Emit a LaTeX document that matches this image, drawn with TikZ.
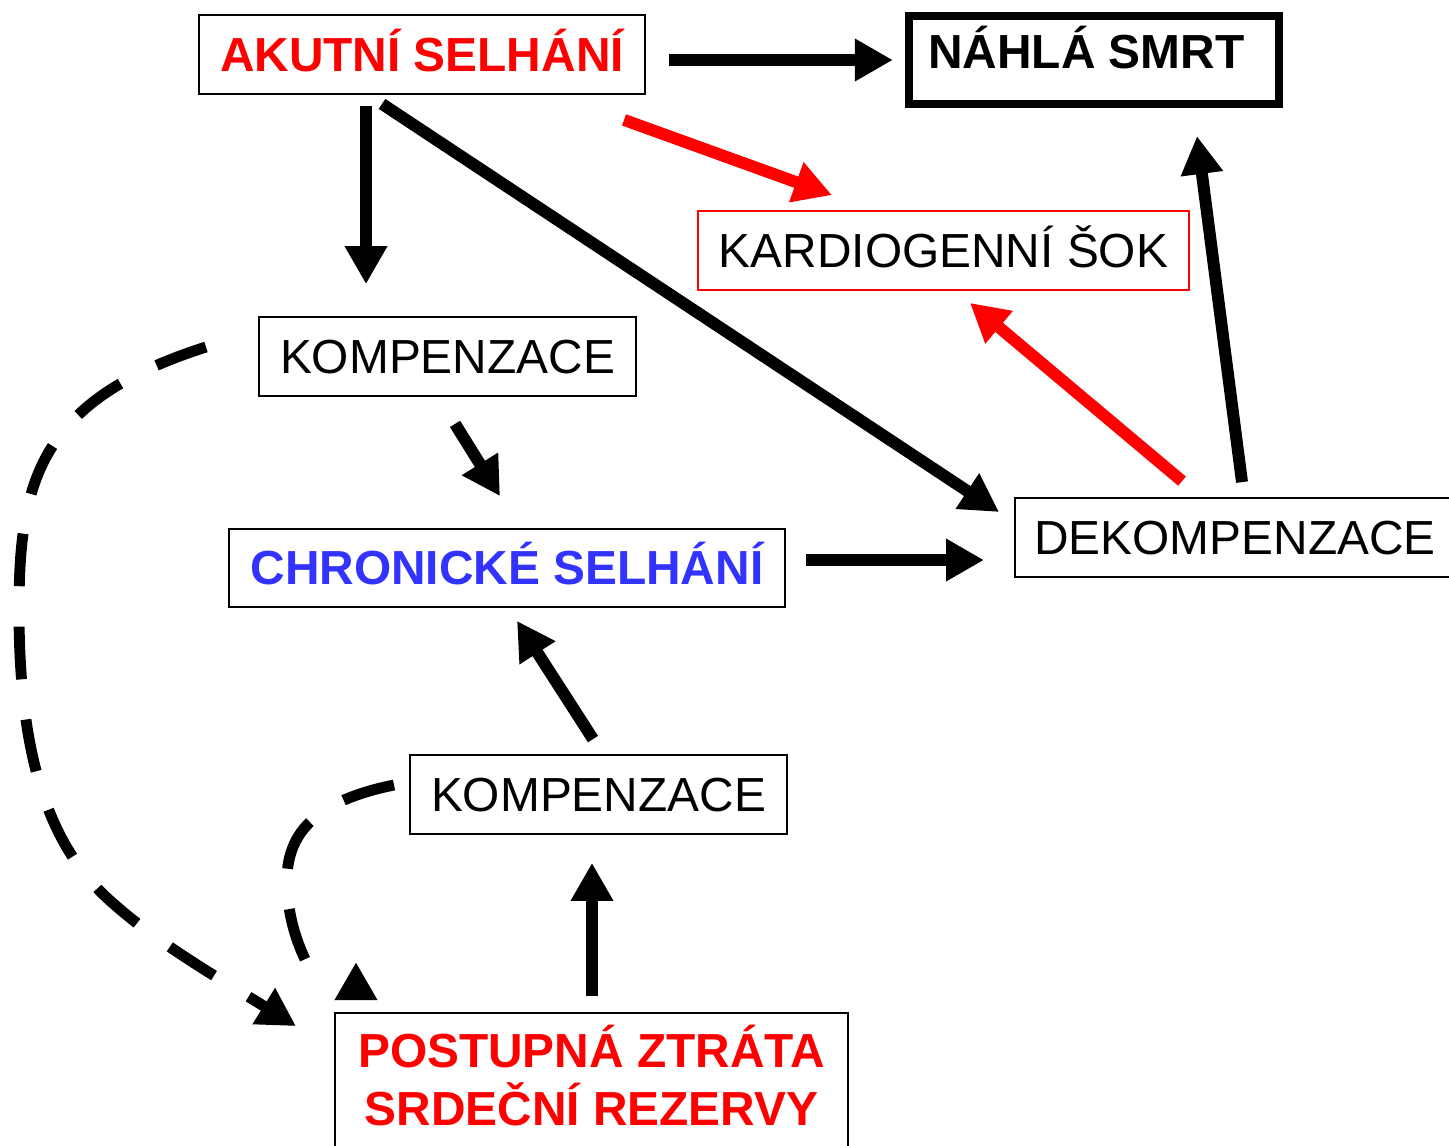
\documentclass[tikz,border=0pt]{standalone}
\usepackage{fontspec}
\setmainfont{Liberation Sans}
\usetikzlibrary{arrows.meta,calc}
\definecolor{chblue}{RGB}{51,51,255}
\newcommand{\boxfont}{\fontsize{13.6}{16.5}\selectfont}
\begin{document}
\begin{tikzpicture}[x=0.01cm,y=-0.01cm,
		box/.style={draw,line width=0.5pt,inner sep=0pt,text height=9.6pt,text depth=0pt,font=\boxfont},
		arr/.style={line width=3.4pt,-{Triangle[length=10.8pt,width=11.4pt]}},
		dasharr/.style={arr,line width=3.1pt,dash pattern=on 15pt off 11.5pt}]
		\useasboundingbox (0,0) rectangle (1449,1145);
		\clip (0,0) rectangle (1449,1145);
		\node[box,minimum width=4.46cm,minimum height=0.79cm,text=red,font=\boxfont\bfseries] (akut) at (422,54.5) {AKUTNÍ SELHÁNÍ};
		\node[box,line width=2.3pt,minimum width=3.7cm,minimum height=0.88cm,text depth=4.6pt,font=\boxfont\bfseries] (nahla) at (1094,60) {NÁHLÁ SMRT\kern4.4pt};
		\node[box,draw=red,minimum width=4.91cm,minimum height=0.79cm] (kard) at (943.5,250.5) {KARDIOGENNÍ ŠOK};
		\node[box,minimum width=3.77cm,minimum height=0.79cm] (komp1) at (447.5,356.5) {KOMPENZACE};
		\node[box,minimum width=5.56cm,minimum height=0.78cm,text=chblue,font=\boxfont\bfseries] (chron) at (507,568) {CHRONICKÉ SELHÁNÍ};
		\node[box,minimum width=4.4cm,minimum height=0.79cm] (dekomp) at (1235,537.5) {DEKOMPENZACE};
		\node[box,minimum width=3.77cm,minimum height=0.79cm] (komp2) at (598.5,794.5) {KOMPENZACE};
		\node[box,minimum width=5.13cm,minimum height=1.34cm,text=red,font=\boxfont\bfseries,align=center,text height=26.1pt] (ztrata) at (591.5,1080) {POSTUPNÁ ZTRÁTA\\SRDEČNÍ REZERVY};
		\draw[arr] ($(akut.east)+(23,5.5)$) -- ($(nahla.west)+(-12,0)$);
		\draw[arr] ($(akut.south)+(-56,11)$) -- ($(komp1.north)+(-81.5,-32)$);
		\draw[arr] ($(akut.south)+(-40,9)$) -- ($(dekomp.west)+(-15,-25.5)$);
		\draw[arr,red] ($(akut.south east)+(-22,25)$) -- ($(kard.north west)+(135,-15)$);
		\draw[arr] ($(komp1.south)+(7.5,27)$) -- ($(chron.north)+(-7,-32)$);
		\draw[arr] ($(chron.east)+(20,-8)$) -- ($(dekomp.west)+(-30,22.5)$);
		\draw[arr,red] ($(dekomp.north)+(-53,-16)$) -- ($(kard.south)+(26.5,12)$);
		\draw[arr] ($(dekomp.north)+(7,-15)$) -- ($(nahla.south)+(103,28)$);
		\draw[arr] ($(komp2.north)+(-5.5,-15)$) -- ($(chron.south)+(10,13)$);
		\draw[arr] ($(ztrata.north)+(0.5,-16)$) -- ($(komp2.south)+(-6.5,28)$);
		\draw[dasharr] ($(komp1.west)+(-52,-9.5)$) .. controls (40,400) and (19,480) .. (19,610)
			.. controls (19,760) and (50,850) .. (115,905)
			.. controls (160,945) and (230,985) .. ($(ztrata.north west)+(-38,14)$);
		\draw[dasharr,-] ($(komp2.west)+(-15,-9.5)$) .. controls (320,800) and (287,830) .. (287,880)
			.. controls (287,920) and (300,950) .. ($(ztrata.north west)+(-25,-45)$);
		\draw[arr] ($(ztrata.north west)+(22,-12)$) -- ($(ztrata.north west)+(22,-50)$);
	\end{tikzpicture}
\end{document}
